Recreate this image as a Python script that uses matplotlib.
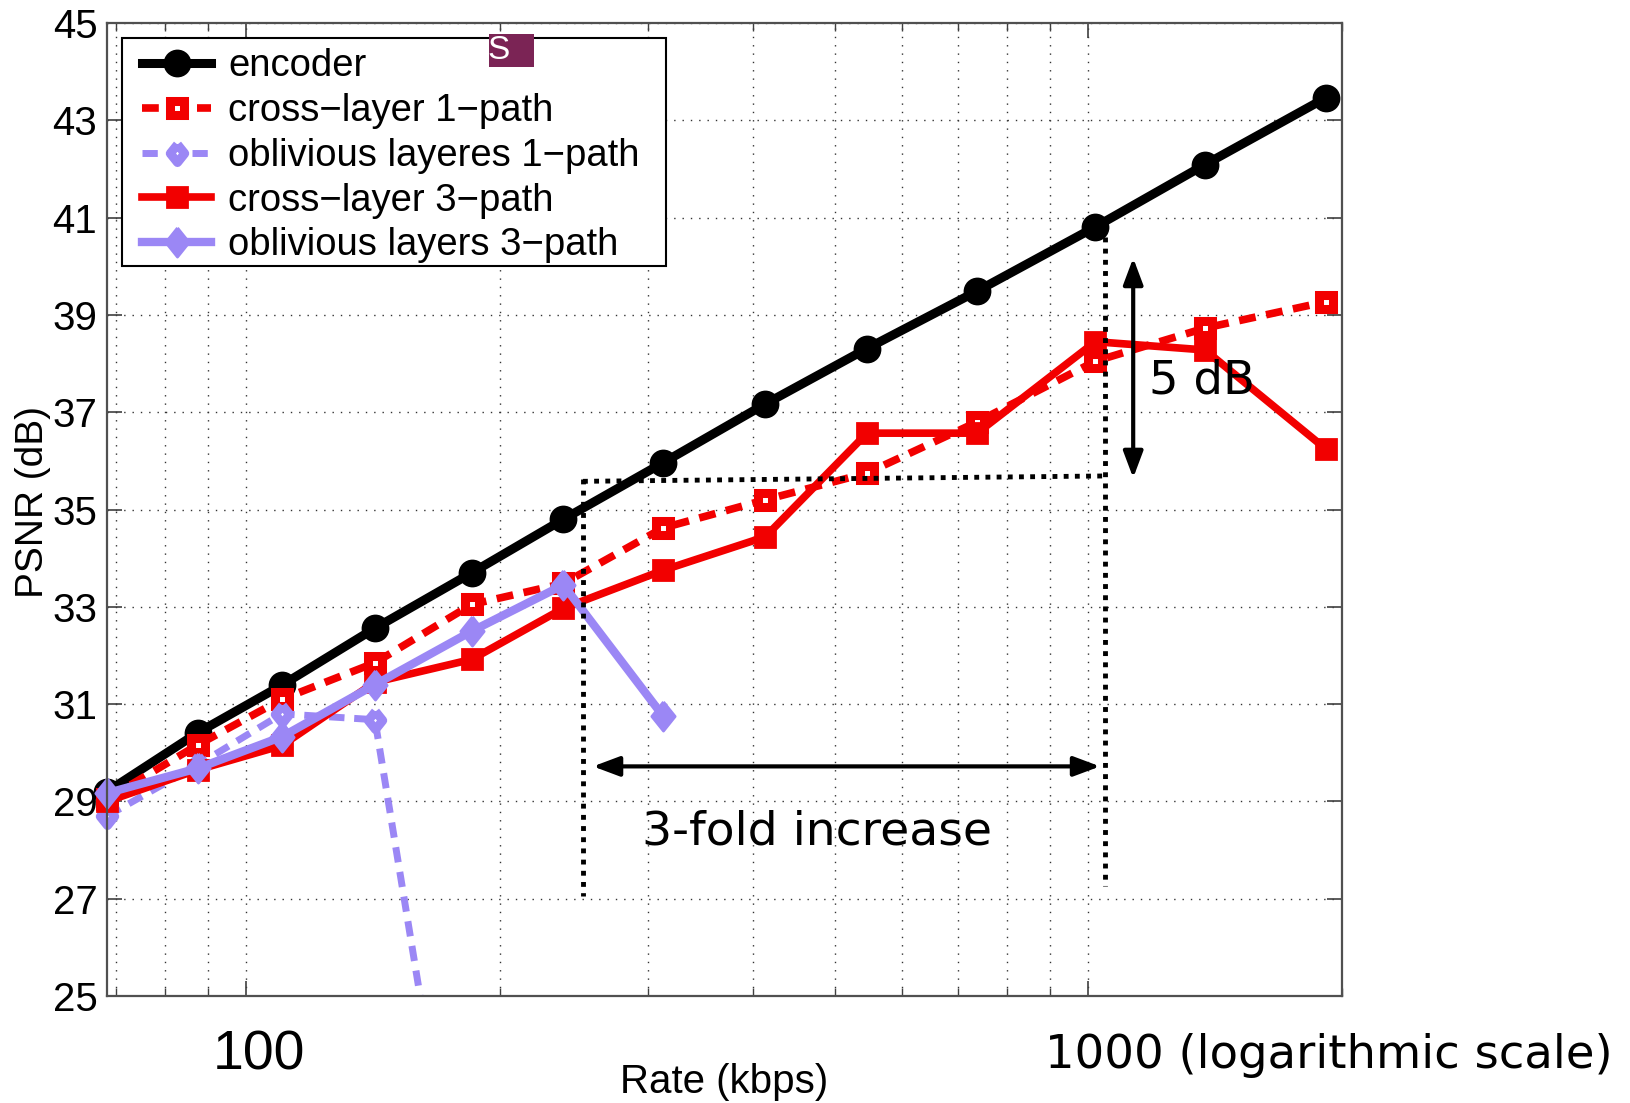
import matplotlib
matplotlib.use("Agg")
import matplotlib.pyplot as plt
from matplotlib.patches import Rectangle
from matplotlib.transforms import Bbox, TransformedBbox, ScaledTranslation

# rates (kbps) of the operating points
rate = [68.3, 87.5, 110.2, 142.1, 185.2, 237.9, 312.3, 413.2, 545.7, 737.4, 1019, 1375, 1912]

# PSNR (dB) per curve
encoder = [29.2, 30.41, 31.39, 32.56, 33.70, 34.80, 35.96, 37.17, 38.31, 39.49, 40.81, 42.09, 43.46]
cross1 = [29.05, 30.16, 31.1, 31.85, 33.05, 33.48, 34.62, 35.2, 35.75, 36.8, 38.05, 38.73, 39.27]
obliv1 = [28.7, 29.75, 30.8, 30.68, 18.5]
cross3 = [29.0, 29.65, 30.15, 31.45, 31.92, 32.97, 33.75, 34.44, 36.57, 36.57, 38.45, 38.28, 36.25]
obliv3 = [29.17, 29.68, 30.33, 31.4, 32.5, 33.45, 30.76]

labels = ["encoder", "cross\u2212layer 1\u2212path", "oblivious layeres 1\u2212path",
          "cross\u2212layer 3\u2212path", "oblivious layers 3\u2212path"]

# annotation geometry (rate / dB)
fold_lo, fold_hi = 251, 1047
psnr_ref = [35.58, 35.69]
gap_top, gap_bot = 40.17, 35.65
arrow_y = 29.72
dash_x = 1130

RED = "#f20000"
PURPLE = "#9b87f5"
arial = ["Liberation Sans", "DejaVu Sans"]

fig = plt.figure(figsize=(16.31, 11.03), dpi=100)
ax = fig.add_axes([0.0656, 0.0970, 0.7572, 0.8821])
ax.set_xscale("log")

diamond = [(0, 1), (0.8, 0), (0, -1), (-0.8, 0), (0, 1)]

lines = []
lines += ax.plot(rate, encoder, color="black", lw=6.5, marker="o", ms=18, mew=2,
                 mfc="black", mec="black", label=labels[0])
lines += ax.plot(rate, cross1, color=RED, lw=5.5, dashes=(2.2, 1.4), marker="s", ms=9.5,
                 mew=6.5, mfc="white", mec=RED, label=labels[1])
lines += ax.plot(rate[:len(obliv1)], obliv1, color=PURPLE, lw=5, dashes=(2.2, 1.4),
                 marker=diamond, ms=13, mew=6.5, mfc="white", mec=PURPLE, label=labels[2])
lines += ax.plot(rate, cross3, color=RED, lw=5.5, marker="s", ms=15, mew=2,
                 mfc=RED, mec=RED, label=labels[3])
lines += ax.plot(rate[:len(obliv3)], obliv3, color=PURPLE, lw=6, marker=diamond, ms=21,
                 mew=2, mfc=PURPLE, mec=PURPLE, label=labels[4])

# clip at the bottom only, markers may poke out on the sides like matlab
clipbox = TransformedBbox(Bbox([[-0.05, 0.0], [1.05, 1.05]]), ax.transAxes)
for ln in lines:
    ln.set_clip_box(clipbox)

ax.set_xlim(68.3, 2000)
ax.set_ylim(25, 45)
ax.set_yticks(range(25, 46, 2))
ax.set_xticks([100, 1000])
ax.set_xticklabels(["100", ""])
ax.tick_params(which="both", direction="in", top=True, right=True, colors="#404040")
ax.tick_params(which="major", length=11, width=1.2)
ax.tick_params(which="minor", length=6, width=1)
ax.tick_params(axis="y", labelsize=29, labelcolor="black", pad=7)
ax.tick_params(axis="x", labelsize=40, labelcolor="black", pad=24)
for lab in ax.get_yticklabels() + ax.get_xticklabels():
    lab.set_fontfamily(arial)
# the "100" sits a bit right of its grid line
for t in ax.xaxis.get_major_ticks():
    t.label1.set_transform(t.label1.get_transform() + ScaledTranslation(0.13, 0, fig.dpi_scale_trans))
ax.grid(True, which="both", color="#333333", lw=1, linestyle=(0, (1, 5)))
for sp in ax.spines.values():
    sp.set_color("#505050")
    sp.set_linewidth(1.6)

ax.set_xlabel("Rate (kbps)", fontsize=29, family=arial, va="center")
ax.xaxis.set_label_coords(0.5, -0.0884)
ax.set_ylabel("PSNR (dB)", fontsize=28, family=arial, va="center")
ax.yaxis.set_label_coords(-0.0599, 0.508)

fig.text(1045 / 1631, 1 - 1056 / 1103, "1000 (logarithmic scale)", fontsize=33.5,
         family="DejaVu Sans", ha="left", va="center")

# legend with a hand drawn square frame
ax.add_patch(Rectangle((0.01215, 0.7503), 0.4405, 0.2343, transform=ax.transAxes,
                       facecolor="white", edgecolor="black", lw=1.5, zorder=4.5))
leg = ax.legend(loc="upper left", bbox_to_anchor=(0.0287, 0.974), borderaxespad=0,
                prop=dict(family=arial, size=27.5), numpoints=1, handlelength=1.8,
                handletextpad=0.45, labelspacing=0.23, borderpad=0, frameon=False)
leg.set_zorder(5)

ax.add_patch(Rectangle((0.3093, 0.9548), 0.0364, 0.0339, transform=ax.transAxes,
                       facecolor="#7b2455", edgecolor="none", zorder=7))
ax.text(0.3174, 0.9723, "S", transform=ax.transAxes, color="white", fontsize=24,
        family=arial, ha="center", va="center", zorder=8)

# annotations
dot = dict(color="black", lw=3.5, linestyle=(0, (1, 1.3)), zorder=6)
ax.plot([fold_lo, fold_hi], psnr_ref, **dot)
ax.plot([fold_lo, fold_lo], [35.62, 27.05], **dot)
ax.plot([fold_hi, fold_hi], [40.6, 27.26], **dot)
arr = dict(arrowstyle="<|-|>,head_length=0.8,head_width=0.3", color="black", lw=3,
           shrinkA=0, shrinkB=0, mutation_scale=20)
ax.annotate("", xy=(258, arrow_y), xytext=(1032, arrow_y), arrowprops=arr, zorder=6)
ax.annotate("", xy=(dash_x, gap_top), xytext=(dash_x, gap_bot), arrowprops=arr, zorder=6)
ax.text(1363, 37.65, "5 dB", fontsize=33.5, family="DejaVu Sans", ha="center", va="center", zorder=6)
ax.text(476, 28.38, "3-fold increase", fontsize=34, family="DejaVu Sans", ha="center",
        va="center", zorder=6)

fig.savefig("out.png", dpi=100)
